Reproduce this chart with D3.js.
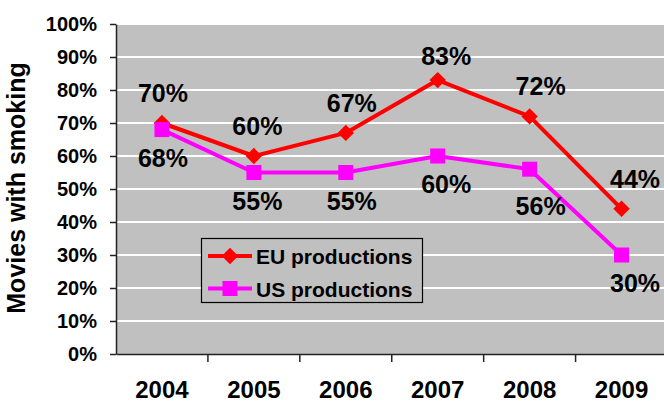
<!DOCTYPE html>
<html>
<head>
<meta charset="utf-8">
<script src="https://cdn.jsdelivr.net/npm/d3@7"></script>
<style>
  body { margin: 0; background: #fff; }
  svg { display: block; font-family: "Liberation Sans", Arial, sans-serif; font-weight: bold; }
</style>
</head>
<body>
<div id="chart"></div>
<script>
// chart data
const years = ["2004", "2005", "2006", "2007", "2008", "2009"];
const euValues = [70, 60, 67, 83, 72, 44];
const usValues = [68, 55, 55, 60, 56, 30];
const yTicks = [0, 10, 20, 30, 40, 50, 60, 70, 80, 90, 100];
const seriesNames = ["EU productions", "US productions"];

const width = 664, height = 403;
const plot = { left: 116, top: 24, right: 667.5, bottom: 354 };

const svg = d3.select("#chart").append("svg")
  .attr("width", width)
  .attr("height", height);

const x = d3.scaleBand()
  .domain(years)
  .range([plot.left, plot.right])
  .padding(0);

const y = d3.scaleLinear()
  .domain([0, 100])
  .range([plot.bottom, plot.top]);

// plot background
svg.append("rect")
  .attr("x", plot.left)
  .attr("y", plot.top)
  .attr("width", plot.right - plot.left)
  .attr("height", plot.bottom - plot.top)
  .attr("fill", "#c0c0c0");

// gridlines
svg.append("g")
  .selectAll("line")
  .data(yTicks.filter(d => d > 0))
  .enter()
  .append("line")
  .attr("x1", plot.left)
  .attr("x2", plot.right)
  .attr("y1", d => y(d))
  .attr("y2", d => y(d))
  .attr("stroke", "#fff")
  .attr("stroke-width", 2);

// y axis
const yAxis = svg.append("g")
  .attr("transform", "translate(" + plot.left + ",0)")
  .call(d3.axisLeft(y).tickValues(yTicks).tickFormat(d => d + "%").tickSize(6).tickSizeOuter(0).tickPadding(13));
yAxis.selectAll("text")
  .attr("font-size", 20)
  .attr("font-weight", "bold")
  .attr("font-family", "Liberation Sans, Arial, sans-serif")
  .attr("fill", "#000");
yAxis.selectAll("line").attr("stroke", "#222").attr("stroke-width", 1.5);
yAxis.select(".domain").attr("stroke", "#222").attr("stroke-width", 1.5);

// x axis (labels centred, ticks on band boundaries)
const xAxis = svg.append("g")
  .attr("transform", "translate(0," + plot.bottom + ")")
  .call(d3.axisBottom(x).tickSize(0).tickPadding(27));
xAxis.selectAll("text")
  .attr("font-size", 24)
  .attr("font-weight", "bold")
  .attr("font-family", "Liberation Sans, Arial, sans-serif")
  .attr("fill", "#000");
xAxis.select(".domain").attr("stroke", "#222").attr("stroke-width", 1.5);
xAxis.selectAll(".bound")
  .data(years)
  .enter()
  .append("line")
  .attr("class", "bound")
  .attr("x1", d => x(d) + x.bandwidth())
  .attr("x2", d => x(d) + x.bandwidth())
  .attr("y1", 0)
  .attr("y2", 8)
  .attr("stroke", "#222")
  .attr("stroke-width", 1.5);

// y axis title
svg.append("text")
  .attr("transform", "translate(25,188) rotate(-90)")
  .attr("text-anchor", "middle")
  .attr("font-size", 25)
  .text("Movies with smoking");

const cx = d => x(d) + x.bandwidth() / 2;

// label nudges (px) where the original labels were moved by hand
const nudgeY = { "0-3": 6, "1-4": 9 };

const series = [
  { name: seriesNames[0], values: euValues, color: "#ff0000", symbol: "diamond", labelDy: -21 },
  { name: seriesNames[1], values: usValues, color: "#ff00ff", symbol: "square", labelDy: 37 }
];

const line = d3.line()
  .x((d, i) => cx(years[i]))
  .y(d => y(d));

const diamond = d3.symbol().type(d3.symbolSquare).size(135);
const square = d3.symbol().type(d3.symbolSquare).size(225);

function marker(sel, s, px, py) {
  if (s.symbol === "diamond") {
    sel.append("path")
      .attr("d", diamond())
      .attr("transform", "translate(" + px + "," + py + ") rotate(45)")
      .attr("fill", s.color);
  } else {
    sel.append("path")
      .attr("d", square())
      .attr("transform", "translate(" + px + "," + py + ")")
      .attr("fill", s.color);
  }
}

series.forEach((s, si) => {
  const g = svg.append("g");
  g.append("path")
    .datum(s.values)
    .attr("d", line)
    .attr("fill", "none")
    .attr("stroke", s.color)
    .attr("stroke-width", 4)
    .attr("stroke-linejoin", "round");
  s.values.forEach((v, i) => marker(g, s, cx(years[i]), y(v)));
  g.selectAll("text.lbl")
    .data(s.values)
    .enter()
    .append("text")
    .attr("class", "lbl")
    .attr("x", (d, i) => cx(years[i]) + 2.5 * i + 1)
    .attr("y", (d, i) => y(d) + s.labelDy + (nudgeY[si + "-" + i] || 0))
    .attr("text-anchor", "middle")
    .attr("font-size", 25)
    .attr("fill", "#000")
    .text(d => d + "%");
});

// legend
const legend = svg.append("g");
legend.append("rect")
  .attr("x", 201.5)
  .attr("y", 238.5)
  .attr("width", 221)
  .attr("height", 64)
  .attr("fill", "#c0c0c0")
  .attr("stroke", "#000")
  .attr("stroke-width", 1.2);
series.forEach((s, i) => {
  const ly = 256 + i * 32.5;
  legend.append("line")
    .attr("x1", 208).attr("x2", 252)
    .attr("y1", ly).attr("y2", ly)
    .attr("stroke", s.color)
    .attr("stroke-width", 4);
  marker(legend, s, 230, ly);
  legend.append("text")
    .attr("x", 256)
    .attr("y", ly + 8)
    .attr("font-size", 21)
    .attr("fill", "#000")
    .text(s.name);
});
</script>
</body>
</html>
